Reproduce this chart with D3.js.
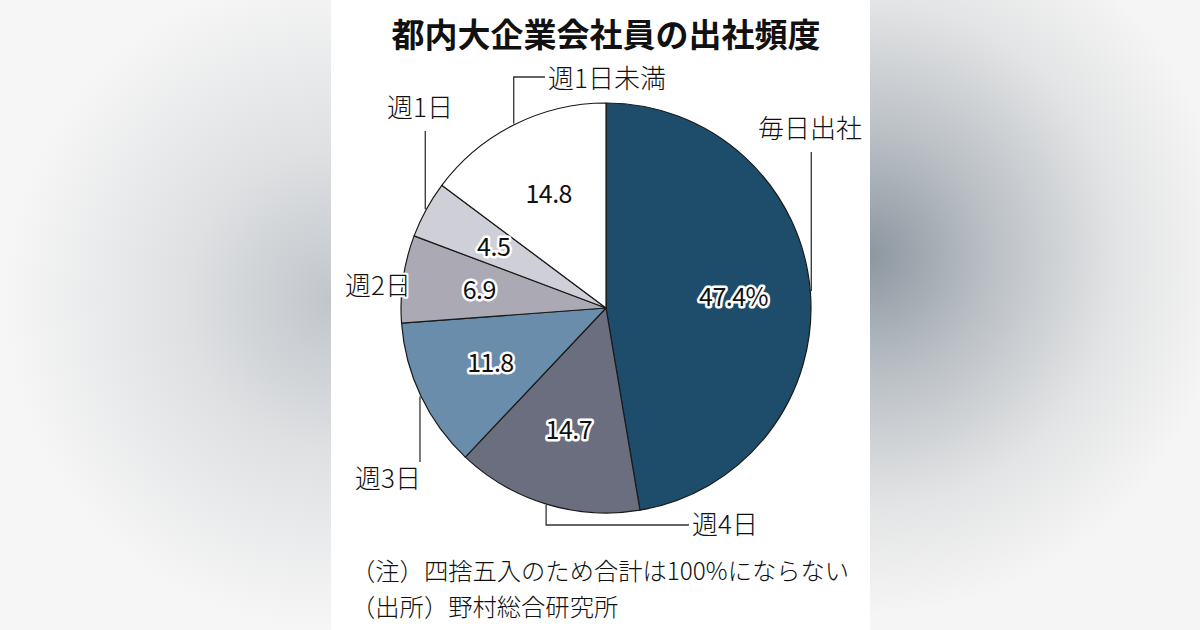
<!DOCTYPE html>
<html>
<head>
<meta charset="utf-8">
<script src="https://cdn.jsdelivr.net/npm/d3@7"></script>
<style>
  html, body { margin: 0; padding: 0; background: #f4f4f4; }
  svg { display: block; }
  text { font-family: "Noto Sans CJK JP", "Noto Sans", sans-serif; }
</style>
</head>
<body>
<div id="chart"></div>
<script>
// data
var categories = ["毎日出社", "週4日", "週3日", "週2日", "週1日", "週1日未満"];
var shares = [47.4, 14.7, 11.8, 6.9, 4.5, 14.8];
var valueLabels = ["47.4%", "14.7", "11.8", "6.9", "4.5", "14.8"];
var sliceColors = ["#1d4d6a", "#6a6e7f", "#6a8dab", "#aaa9b4", "#cfcfd8", "#ffffff"];

var title = "都内大企業会社員の出社頻度";
var notes = ["（注）四捨五入のため合計は100%にならない", "（出所）野村総合研究所"];

// layout of the category labels: where the text sits and how far the leader runs
var labelLayout = [
  { x: 810, y: 129, anchor: "middle", elbowY: 152, endX: null },
  { x: 692, y: 525, anchor: "start",  elbowY: 525, endX: 689 },
  { x: 421, y: 479, anchor: "end",    elbowY: 462, endX: null },
  { x: 378, y: 286, anchor: "middle", elbowY: null, endX: null },
  { x: 420, y: 108, anchor: "middle", elbowY: 131, endX: null },
  { x: 548, y: 79,  anchor: "start",  elbowY: 77,  endX: 545 }
];

var W = 1200, H = 630;
var cx = 606, cy = 308, radius = 205;

var svg = d3.select("#chart").append("svg")
  .attr("width", W)
  .attr("height", H);

// blurred backdrop on both sides
var defs = svg.append("defs");
var gl = defs.append("radialGradient").attr("id", "bgLeft")
  .attr("gradientUnits", "userSpaceOnUse")
  .attr("cx", 335).attr("cy", 300).attr("r", 330);
gl.append("stop").attr("offset", "0%").attr("stop-color", "#c1c5ca");
gl.append("stop").attr("offset", "45%").attr("stop-color", "#dee0e2");
gl.append("stop").attr("offset", "100%").attr("stop-color", "#f6f6f6");

var gr = defs.append("radialGradient").attr("id", "bgRight")
  .attr("gradientUnits", "userSpaceOnUse")
  .attr("cx", 868).attr("cy", 255).attr("r", 360);
gr.append("stop").attr("offset", "0%").attr("stop-color", "#8c97a1");
gr.append("stop").attr("offset", "35%").attr("stop-color", "#bcc1c6");
gr.append("stop").attr("offset", "70%").attr("stop-color", "#e3e4e5");
gr.append("stop").attr("offset", "100%").attr("stop-color", "#f5f5f5");

svg.append("rect").attr("x", 0).attr("y", 0).attr("width", 331).attr("height", H)
  .attr("fill", "url(#bgLeft)");
svg.append("rect").attr("x", 870).attr("y", 0).attr("width", W - 870).attr("height", H)
  .attr("fill", "url(#bgRight)");
svg.append("rect").attr("x", 331).attr("y", 0).attr("width", 539).attr("height", H)
  .attr("fill", "#ffffff");

// title
svg.append("text")
  .attr("x", cx)
  .attr("y", 35)
  .attr("dy", "0.35em")
  .attr("text-anchor", "middle")
  .attr("font-size", 33)
  .attr("font-weight", 700)
  .attr("fill", "#111")
  .text(title);

var data = categories.map(function(c, i) { return { name: c, value: shares[i], i: i }; });

var pie = d3.pie()
  .sort(null)
  .value(function(d) { return d.value; });

var arcs = pie(data);

var path = d3.arc()
  .outerRadius(radius)
  .innerRadius(0);

var valueArc = d3.arc()
  .outerRadius(128)
  .innerRadius(128);

var edgeArc = d3.arc()
  .outerRadius(radius + 1)
  .innerRadius(radius + 1);

var g = svg.append("g").attr("transform", "translate(" + cx + "," + cy + ")");

g.selectAll(".slice")
  .data(arcs)
  .enter().append("path")
    .attr("class", "slice")
    .attr("d", path)
    .attr("fill", function(d) { return sliceColors[d.data.i]; })
    .attr("stroke", "#1a1a1a")
    .attr("stroke-width", 1.2)
    .attr("stroke-linejoin", "round");

// values inside the slices, black with a white halo
g.selectAll(".value")
  .data(arcs)
  .enter().append("text")
    .attr("class", "value")
    .attr("transform", function(d) { return "translate(" + valueArc.centroid(d) + ")"; })
    .attr("dy", "0.36em")
    .attr("text-anchor", "middle")
    .attr("font-size", 25)
    .attr("fill", "#111")
    .attr("stroke", "#fff")
    .attr("stroke-width", 5)
    .attr("stroke-linejoin", "round")
    .attr("paint-order", "stroke")
    .attr("letter-spacing", -0.5)
    .text(function(d) { return valueLabels[d.data.i]; });

// leader lines start on the rim at the middle of each slice
var leaders = svg.append("g")
  .attr("fill", "none")
  .attr("stroke", "#333")
  .attr("stroke-width", 1.3);

arcs.forEach(function(d) {
  var lay = labelLayout[d.data.i];
  if (lay.elbowY === null) return;
  var p = edgeArc.centroid(d);
  var x0 = cx + p[0], y0 = cy + p[1];
  var pts = [[x0, y0], [x0, lay.elbowY]];
  if (lay.endX !== null) pts.push([lay.endX, lay.elbowY]);
  leaders.append("path").attr("d", d3.line()(pts));
});

// category labels
svg.selectAll(".cat")
  .data(arcs)
  .enter().append("text")
    .attr("class", "cat")
    .attr("x", function(d) { return labelLayout[d.data.i].x; })
    .attr("y", function(d) { return labelLayout[d.data.i].y; })
    .attr("dy", "0.36em")
    .attr("text-anchor", function(d) { return labelLayout[d.data.i].anchor; })
    .attr("font-size", 26)
    .attr("font-weight", 300)
    .attr("fill", "#111")
    .attr("stroke", "#fff")
    .attr("stroke-width", 4)
    .attr("stroke-linejoin", "round")
    .attr("paint-order", "stroke")
    .text(function(d) { return d.data.name; });

// footnotes
svg.selectAll(".note")
  .data(notes)
  .enter().append("text")
    .attr("class", "note")
    .attr("x", 351)
    .attr("y", function(d, i) { return 571 + i * 36; })
    .attr("dy", "0.36em")
    .attr("font-size", 24.3)
    .attr("font-weight", 300)
    .attr("fill", "#111")
    .text(function(d) { return d; });
</script>
</body>
</html>
